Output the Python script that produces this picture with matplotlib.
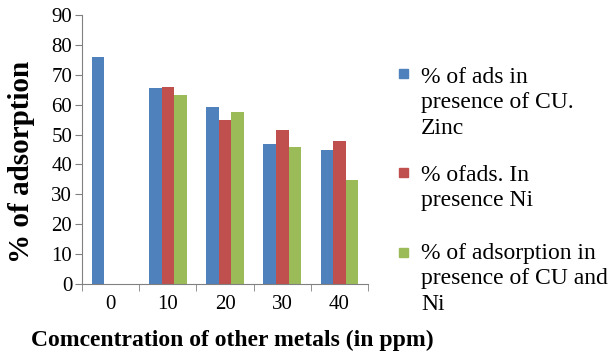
import numpy as np
import matplotlib
matplotlib.use("Agg")
import matplotlib.pyplot as plt
from matplotlib.patches import Rectangle

plt.rcParams['font.family'] = ['Liberation Serif', 'DejaVu Serif']

concentrations = ['0', '10', '20', '30', '40']
ads_cu_zinc = [76.1, 65.5, 59.1, 46.7, 44.8]
ads_ni = [0, 65.9, 55.0, 51.6, 47.7]
ads_cu_ni = [0, 63.3, 57.6, 45.9, 34.9]

series = [ads_cu_zinc, ads_ni, ads_cu_ni]
labels = ['% of ads in\npresence of CU.\nZinc',
          '% ofads. In\npresence Ni',
          '% of adsorption in\npresence of CU and\nNi']
colors = ['#4F81BD', '#C0504D', '#9BBB59']

fig = plt.figure(figsize=(6.14, 3.54), dpi=100)
ax = fig.add_axes([0.1336, 0.1977, 0.4658, 0.7599])

x = np.arange(len(concentrations))
w = 0.22
for i, (vals, c) in enumerate(zip(series, colors)):
    ax.bar(x + (i - 1) * w, vals, w, color=c, edgecolor='none')

ax.set_xlim(-0.5, len(concentrations) - 0.5)
ax.set_ylim(0, 90)
ax.set_yticks(range(0, 91, 10))
ax.set_xticks(x)
ax.set_xticklabels(concentrations)
ax.set_xticks(np.arange(-0.5, len(concentrations)), minor=True)
ax.tick_params(axis='x', which='major', length=0, pad=8, labelsize=15)
ax.tick_params(axis='x', which='minor', length=5, direction='out', color='#808080')
ax.tick_params(axis='y', length=5, direction='out', color='#808080', labelsize=15, pad=2)

for s in ['top', 'right']:
    ax.spines[s].set_visible(False)
for s in ['left', 'bottom']:
    ax.spines[s].set_color('#808080')

ax.set_ylabel('% of adsorption', fontsize=21, fontweight='bold')
ax.yaxis.set_label_coords(-0.165, 0.455)
ax.set_xlabel('Comcentration of other metals (in ppm)', fontsize=17,
              fontweight='bold')
ax.xaxis.set_label_coords(0.525, -0.17)

# legend drawn by hand so each swatch lines up with the first text line
text_tops = [0.811, 0.534, 0.314]
swatch_bottoms = [0.780, 0.500, 0.274]
for top, bot, lab, c in zip(text_tops, swatch_bottoms, labels, colors):
    fig.patches.append(Rectangle((0.650, bot), 0.0147, 0.0254,
                                 transform=fig.transFigure, color=c))
    fig.text(0.686, top, lab, fontsize=17, va='top', ha='left',
             linespacing=1.28)

fig.savefig('out.png', dpi=100)
